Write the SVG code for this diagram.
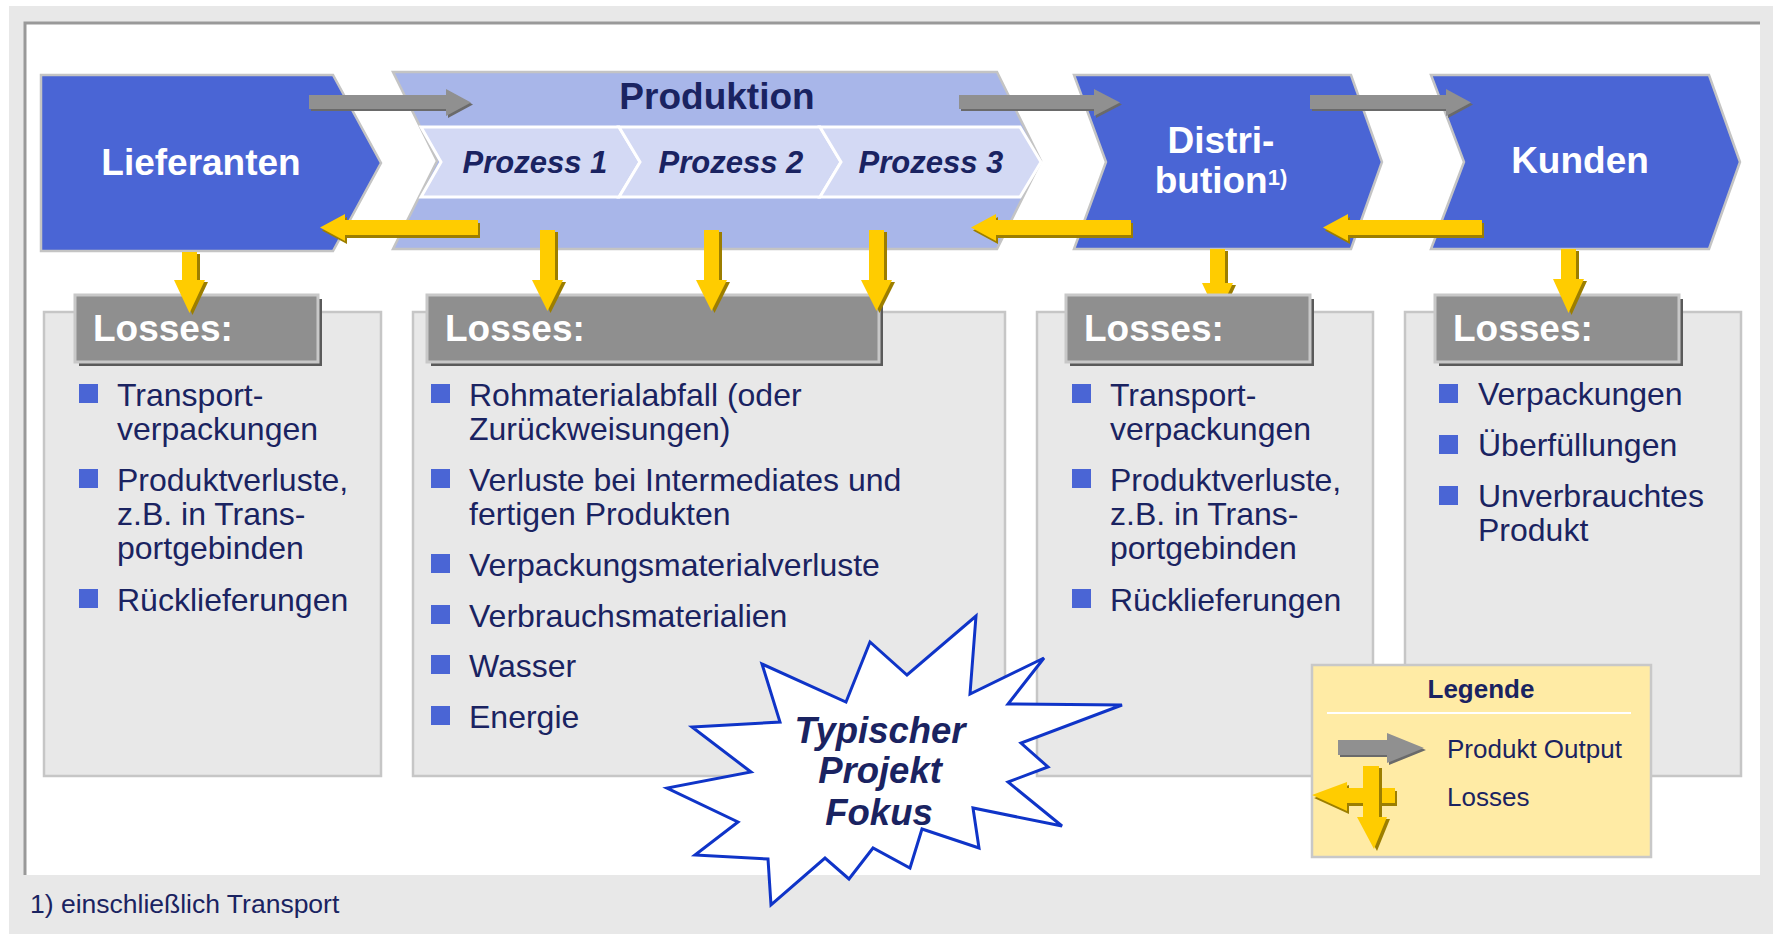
<svg xmlns="http://www.w3.org/2000/svg" xmlns:xlink="http://www.w3.org/1999/xlink" width="1773" height="934" viewBox="0 0 1773 934">
<style>
text { font-family: "Liberation Sans", Arial, sans-serif; }
.navy { fill: #1a2361; }
.chev { fill: #4a65d5; stroke: #c4c4c4; stroke-width: 2.5; }
.prod { fill: #a8b6e9; stroke: #c4c4c4; stroke-width: 2.5; }
.proc { fill: #d3d9f4; stroke: #ffffff; stroke-width: 3; }
.ctitle { font-size: 37px; font-weight: bold; fill: #ffffff; text-anchor: middle; }
.ptitle { font-size: 31px; font-weight: bold; font-style: italic; fill: #1a2361; text-anchor: middle; }
.panel { fill: #e8e8e8; stroke: #c6c6c6; stroke-width: 2.5; }
.hdr { fill: #8f8f8f; stroke: #c8c8c8; stroke-width: 3; }
.hdrsh { fill: #5a5a5a; }
.htxt { font-size: 37px; font-weight: bold; fill: #ffffff; }
.item { font-size: 32px; fill: #1a2361; }
.bul { fill: #4a65d5; }
.star { fill: #ffffff; stroke: #0f34c8; stroke-width: 3; stroke-linejoin: miter; }
.stxt { font-size: 36.5px; font-weight: bold; font-style: italic; fill: #1a2361; text-anchor: middle; }
.leg { fill: #ffeba5; stroke: #c8c8c8; stroke-width: 2.5; }
</style>
<defs>
  <polygon id="ga1" points="309,95 446,95 446,89 471,102.5 446,116 446,109 309,109"/>
  <polygon id="ga2" points="959,95 1094,95 1094,89 1120,102.5 1094,116 1094,109 959,109"/>
  <polygon id="ga3" points="1310,95 1446,95 1446,89 1471,102.5 1446,116 1446,109 1310,109"/>
  <polygon id="ya1" points="478,220 345,220 345,214 320,227.5 345,241 345,235 478,235"/>
  <polygon id="ya2" points="1131,220 996,220 996,214 971,227.5 996,241 996,235 1131,235"/>
  <polygon id="ya3" points="1482,220 1348,220 1348,214 1323,227.5 1348,241 1348,235 1482,235"/>
  <polygon id="yv1" points="182,252 197,252 197,280 205,280 189.5,313 174,280 182,280"/>
  <polygon id="yv2" points="540,230 555,230 555,280 563,280 547.5,311 532,280 540,280"/>
  <polygon id="yv3" points="704,230 719,230 719,280 727,280 711.5,311 696,280 704,280"/>
  <polygon id="yv4" points="869,230 884,230 884,280 892,280 876.5,311 861,280 869,280"/>
  <polygon id="yv5" points="1210,249 1225,249 1225,283 1233,283 1217.5,316 1202,283 1210,283"/>
  <polygon id="yv6" points="1561,249 1576,249 1576,279 1584,279 1568.5,313 1553,279 1561,279"/>
  <polygon id="lga" points="1338,740 1387,740 1387,733 1424,748 1387,763 1387,755 1338,755"/>
  <polygon id="lya" points="1395,788 1347,788 1347,782 1312,795 1347,811 1347,803 1395,803"/>
  <polygon id="lyv" points="1363,766 1379,766 1379,817 1387,817 1374,849 1357,817 1363,817"/>
</defs>

<!-- background -->
<rect x="0" y="0" width="1773" height="934" fill="#ffffff"/>
<rect x="9" y="6" width="1764" height="928" fill="#e8e8e8"/>
<rect x="25" y="23" width="1735" height="852" fill="#ffffff"/>
<path d="M25,875 L25,23 L1760,23" fill="none" stroke="#999999" stroke-width="3"/>

<!-- top chain -->
<g id="node-lieferanten">
  <polygon class="chev" points="41,75 333,75 381,163 333,251 41,251"/>
  <text class="ctitle" x="201" y="175">Lieferanten</text>
</g>
<g id="node-produktion">
  <polygon class="prod" points="393,72 997,72 1041,161 997,249 393,249 437,161"/>
  <text x="717" y="109" font-size="37" font-weight="bold" class="navy" text-anchor="middle">Produktion</text>
</g>
<g id="node-prozess1">
  <polygon class="proc" points="421,127 619,127 640,162 619,197 421,197 441,162"/>
  <text class="ptitle" x="535" y="173">Prozess 1</text>
</g>
<g id="node-prozess2">
  <polygon class="proc" points="619,127 820,127 841,162 820,197 619,197 640,162"/>
  <text class="ptitle" x="731" y="173">Prozess 2</text>
</g>
<g id="node-prozess3">
  <polygon class="proc" points="820,127 1020,127 1041,162 1020,197 820,197 841,162"/>
  <text class="ptitle" x="931" y="173">Prozess 3</text>
</g>
<g id="node-distribution">
  <polygon class="chev" points="1074,75 1351,75 1382,162 1351,249 1074,249 1106,162"/>
  <text class="ctitle" x="1221" y="153">Distri-</text>
  <text class="ctitle" x="1221" y="193">bution<tspan font-size="22" dy="-8">1)</tspan></text>
</g>
<g id="node-kunden">
  <polygon class="chev" points="1431,75 1709,75 1740,162 1709,249 1431,249 1464,162"/>
  <text class="ctitle" x="1580" y="173">Kunden</text>
</g>

<!-- panels -->
<g id="node-losses-lieferanten">
  <rect class="panel" x="44" y="312" width="337" height="464"/>
</g>
<g id="node-losses-produktion">
  <rect class="panel" x="413" y="312" width="592" height="464"/>
</g>
<g id="node-losses-distribution">
  <rect class="panel" x="1037" y="312" width="336" height="464"/>
</g>
<g id="node-losses-kunden">
  <rect class="panel" x="1405" y="312" width="336" height="464"/>
</g>

<!-- connectors -->
<g id="connectors">
  <use xlink:href="#ga1" fill="#6a6a6a" transform="translate(2,2)"/>
  <use xlink:href="#ga1" fill="#909090"/>
  <use xlink:href="#ga2" fill="#6a6a6a" transform="translate(2,2)"/>
  <use xlink:href="#ga2" fill="#909090"/>
  <use xlink:href="#ga3" fill="#6a6a6a" transform="translate(2,2)"/>
  <use xlink:href="#ga3" fill="#909090"/>
  <use xlink:href="#ya1" fill="#9c7e00" transform="translate(2,3)"/>
  <use xlink:href="#ya1" fill="#ffcc00"/>
  <use xlink:href="#ya2" fill="#9c7e00" transform="translate(2,3)"/>
  <use xlink:href="#ya2" fill="#ffcc00"/>
  <use xlink:href="#ya3" fill="#9c7e00" transform="translate(2,3)"/>
  <use xlink:href="#ya3" fill="#ffcc00"/>
  <use xlink:href="#yv5" fill="#9c7e00" transform="translate(3,2)"/>
  <use xlink:href="#yv5" fill="#ffcc00"/>
</g>

<!-- headers -->
<g id="hdr-1">
  <rect class="hdrsh" x="79" y="299" width="243" height="67"/>
  <rect class="hdr" x="75" y="295" width="243" height="67"/>
  <text class="htxt" x="93" y="341">Losses:</text>
</g>
<g id="hdr-2">
  <rect class="hdrsh" x="431" y="299" width="452" height="67"/>
  <rect class="hdr" x="427" y="295" width="452" height="67"/>
  <text class="htxt" x="445" y="341">Losses:</text>
</g>
<g id="hdr-3">
  <rect class="hdrsh" x="1070" y="299" width="244" height="67"/>
  <rect class="hdr" x="1066" y="295" width="244" height="67"/>
  <text class="htxt" x="1084" y="341">Losses:</text>
</g>
<g id="hdr-4">
  <rect class="hdrsh" x="1439" y="299" width="244" height="67"/>
  <rect class="hdr" x="1435" y="295" width="244" height="67"/>
  <text class="htxt" x="1453" y="341">Losses:</text>
</g>

<g id="connectors-down">
  <use xlink:href="#yv1" fill="#9c7e00" transform="translate(3,2)"/>
  <use xlink:href="#yv1" fill="#ffcc00"/>
  <use xlink:href="#yv2" fill="#9c7e00" transform="translate(3,2)"/>
  <use xlink:href="#yv2" fill="#ffcc00"/>
  <use xlink:href="#yv3" fill="#9c7e00" transform="translate(3,2)"/>
  <use xlink:href="#yv3" fill="#ffcc00"/>
  <use xlink:href="#yv4" fill="#9c7e00" transform="translate(3,2)"/>
  <use xlink:href="#yv4" fill="#ffcc00"/>
  <use xlink:href="#yv6" fill="#9c7e00" transform="translate(3,2)"/>
  <use xlink:href="#yv6" fill="#ffcc00"/>
</g>

<!-- lists -->
<g id="list-1">
  <rect class="bul" x="79" y="384" width="19" height="19"/>
  <text class="item" x="117" y="406">Transport-</text>
  <text class="item" x="117" y="440">verpackungen</text>
  <rect class="bul" x="79" y="469" width="19" height="19"/>
  <text class="item" x="117" y="491">Produktverluste,</text>
  <text class="item" x="117" y="525">z.B. in Trans-</text>
  <text class="item" x="117" y="559">portgebinden</text>
  <rect class="bul" x="79" y="589" width="19" height="19"/>
  <text class="item" x="117" y="611">Rücklieferungen</text>
</g>
<g id="list-2">
  <rect class="bul" x="431" y="384" width="19" height="19"/>
  <text class="item" x="469" y="406">Rohmaterialabfall (oder</text>
  <text class="item" x="469" y="440">Zurückweisungen)</text>
  <rect class="bul" x="431" y="469" width="19" height="19"/>
  <text class="item" x="469" y="491">Verluste bei Intermediates und</text>
  <text class="item" x="469" y="525">fertigen Produkten</text>
  <rect class="bul" x="431" y="554" width="19" height="19"/>
  <text class="item" x="469" y="576">Verpackungsmaterialverluste</text>
  <rect class="bul" x="431" y="605" width="19" height="19"/>
  <text class="item" x="469" y="627">Verbrauchsmaterialien</text>
  <rect class="bul" x="431" y="655" width="19" height="19"/>
  <text class="item" x="469" y="677">Wasser</text>
  <rect class="bul" x="431" y="706" width="19" height="19"/>
  <text class="item" x="469" y="728">Energie</text>
</g>
<g id="list-3">
  <rect class="bul" x="1072" y="384" width="19" height="19"/>
  <text class="item" x="1110" y="406">Transport-</text>
  <text class="item" x="1110" y="440">verpackungen</text>
  <rect class="bul" x="1072" y="469" width="19" height="19"/>
  <text class="item" x="1110" y="491">Produktverluste,</text>
  <text class="item" x="1110" y="525">z.B. in Trans-</text>
  <text class="item" x="1110" y="559">portgebinden</text>
  <rect class="bul" x="1072" y="589" width="19" height="19"/>
  <text class="item" x="1110" y="611">Rücklieferungen</text>
</g>
<g id="list-4">
  <rect class="bul" x="1439" y="384" width="19" height="19"/>
  <text class="item" x="1478" y="405">Verpackungen</text>
  <rect class="bul" x="1439" y="435" width="19" height="19"/>
  <text class="item" x="1478" y="456">Überfüllungen</text>
  <rect class="bul" x="1439" y="486" width="19" height="19"/>
  <text class="item" x="1478" y="507">Unverbrauchtes</text>
  <text class="item" x="1478" y="541">Produkt</text>
</g>

<!-- legend -->
<g id="legend">
  <rect class="leg" x="1312" y="665" width="339" height="192"/>
  <text x="1481" y="698" font-size="26" font-weight="bold" class="navy" text-anchor="middle">Legende</text>
  <line x1="1327" y1="713" x2="1631" y2="713" stroke="#ffffff" stroke-width="2"/>
  <use xlink:href="#lga" fill="#6a6a6a" transform="translate(2,2)"/>
  <use xlink:href="#lga" fill="#909090"/>
  <text x="1447" y="758" font-size="26" class="navy">Produkt Output</text>
  <use xlink:href="#lya" fill="#9c7e00" transform="translate(2,3)"/>
  <use xlink:href="#lya" fill="#ffcc00"/>
  <use xlink:href="#lyv" fill="#9c7e00" transform="translate(3,2)"/>
  <use xlink:href="#lyv" fill="#ffcc00"/>
  <text x="1447" y="806" font-size="26" class="navy">Losses</text>
</g>

<!-- starburst -->
<g id="node-fokus">
  <polygon class="star" points="976,616 970,694 1044,658 1008,704 1122,705 1021,743 1048,767 1008,782 1062,826 973,808 979,848 922,829 910,868 873,848 849,879 825,858 771,905 768,859 695,855 738,822 667,788 751,772 692,727 780,722 762,664 846,702 870,642 907,675"/>
  <text class="stxt" x="880" y="743">Typischer</text>
  <text class="stxt" x="880" y="783">Projekt</text>
  <text class="stxt" x="879" y="825">Fokus</text>
</g>

<!-- footnote -->
<text x="30" y="913" font-size="26.5" class="navy">1) einschließlich Transport</text>
</svg>
